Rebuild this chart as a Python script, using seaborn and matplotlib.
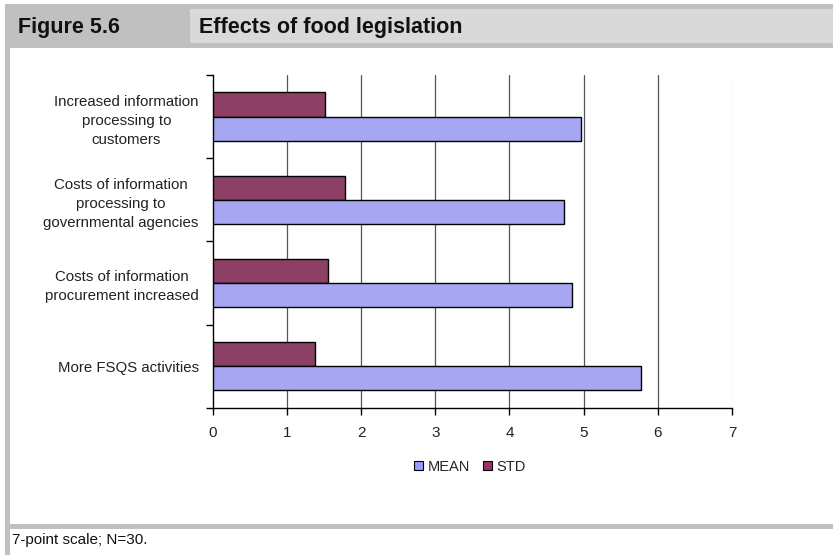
import matplotlib
matplotlib.use("Agg")
import matplotlib.pyplot as plt
from matplotlib.patches import Rectangle, Patch
import seaborn as sns
import pandas as pd

# Survey results: effects of food legislation (7-point scale, N=30)
categories = [
    "Increased information\nprocessing to\ncustomers",
    "Costs of information\nprocessing to\ngovernmental agencies",
    "Costs of information\nprocurement increased",
    "More FSQS activities",
]
mean_values = [4.97, 4.73, 4.84, 5.78]
std_values = [1.52, 1.78, 1.56, 1.38]
series_names = ["MEAN", "STD"]
x_ticks = [0, 1, 2, 3, 4, 5, 6, 7]

colors = {"MEAN": "#9999FF", "STD": "#993366"}

df = pd.DataFrame({
    "item": categories * 2,
    "value": mean_values + std_values,
    "series": ["MEAN"] * len(categories) + ["STD"] * len(categories),
})

sns.set_theme(style="white")
plt.rcParams["font.family"] = ["Liberation Sans", "DejaVu Sans"]

W, H = 833, 555
fig = plt.figure(figsize=(W / 100, H / 100), dpi=100)
fig.patch.set_facecolor("white")


def px_rect(x0, y0, x1, y1, color, z=0):
    fig.add_artist(Rectangle((x0 / W, 1 - y1 / H), (x1 - x0) / W, (y1 - y0) / H,
                             transform=fig.transFigure, facecolor=color,
                             edgecolor="none", zorder=z))


# Header band and frame
px_rect(5, 4, W, 48, "#c0c0c0")
px_rect(190, 9, W, 43, "#d9d9d9")
px_rect(5, 48, 10, H, "#c0c0c0")
px_rect(5, 524, W, 529, "#c0c0c0")

fig.text(18 / W, 1 - 28 / H, "Figure 5.6", fontsize=15.5, fontweight="bold",
         va="center", ha="left", color="#111111")
fig.text(199 / W, 1 - 28 / H, "Effects of food legislation", fontsize=15.5,
         fontweight="bold", va="center", ha="left", color="#111111")
fig.text(12 / W, 1 - 540 / H, "7-point scale; N=30.", fontsize=11,
         va="center", ha="left", color="#111111")

# Plot area
left, right, top, bottom = 212.7, 732.0, 75.0, 407.7
ax = fig.add_axes([left / W, 1 - bottom / H, (right - left) / W, (bottom - top) / H])
ax.set_facecolor("white")

sns.barplot(data=df, y="item", x="value", hue="series", hue_order=["STD", "MEAN"],
            order=categories, orient="h", palette=colors, width=0.58, gap=0,
            edgecolor="black", linewidth=1.0, ax=ax, legend=False, errorbar=None,
            zorder=3)

ax.set_xlim(0, 7)
ax.set_ylim(len(categories) - 0.5, -0.5)
ax.set_xticks(x_ticks)
ax.set_xticklabels([str(t) for t in x_ticks], fontsize=11, color="#222222")
ax.set_xlabel("")
ax.set_ylabel("")

# vertical gridlines
for t in x_ticks[1:]:
    ax.axvline(t, color="#e6e6e6" if t == 7 else "#555555", lw=0.9, zorder=1)

for side in ["top", "right"]:
    ax.spines[side].set_visible(False)
for side in ["left", "bottom"]:
    ax.spines[side].set_color("black")
    ax.spines[side].set_linewidth(1.0)

ax.tick_params(axis="x", direction="out", length=5, width=1, color="black", pad=8,
               bottom=True)
ax.set_yticks(range(len(categories)))
ax.set_yticklabels(categories, fontsize=10.8, color="#222222", ha="right",
                   multialignment="center", linespacing=1.45)
ax.tick_params(axis="y", which="major", length=0, pad=10)
ax.set_yticks([i - 0.5 for i in range(len(categories) + 1)], minor=True)
ax.tick_params(axis="y", which="minor", direction="out", length=5, width=1,
               color="black", left=True)

# Legend (MEAN first, then STD)
handles = [Patch(facecolor=colors[s], edgecolor="black", linewidth=0.8)
           for s in series_names]
fig.legend(handles, series_names, loc="center", bbox_to_anchor=(470 / W, 1 - 467 / H),
           ncol=2, frameon=False, fontsize=10.5, handlelength=0.6, handleheight=0.6,
           handletextpad=0.3, columnspacing=0.9)

fig.savefig("out.png", dpi=100, facecolor="white")
